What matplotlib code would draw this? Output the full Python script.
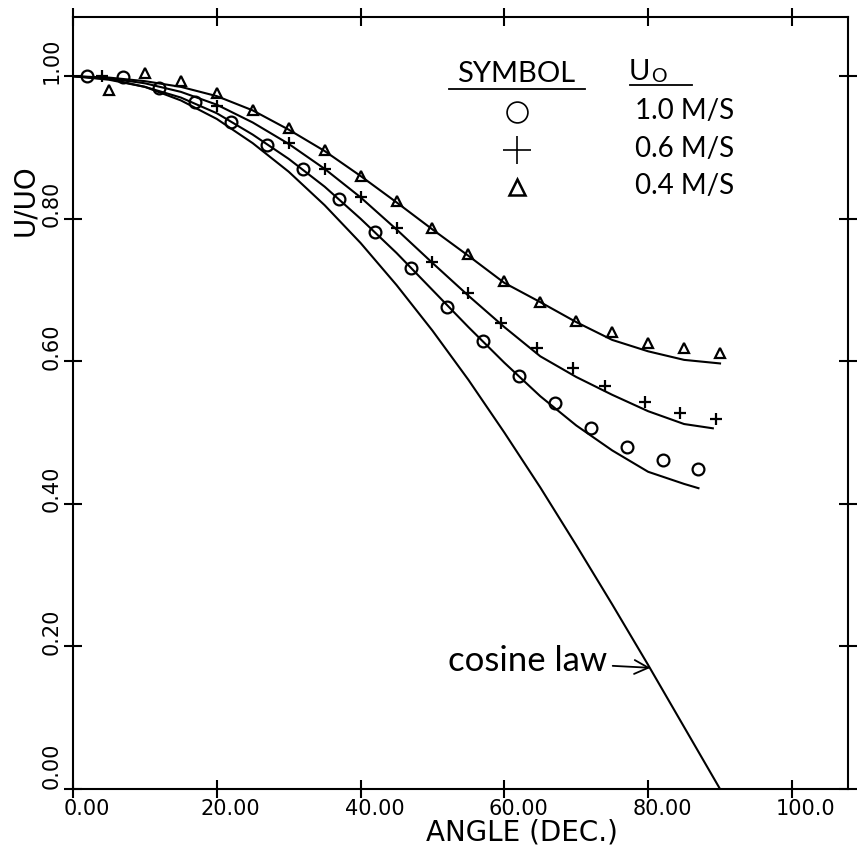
import matplotlib
matplotlib.use('Agg')
import matplotlib.pyplot as plt
from matplotlib.lines import Line2D
from matplotlib.transforms import ScaledTranslation

# ---------------- data ----------------
cos_angle = [0, 5, 10, 15, 20, 25, 30, 35, 40, 45, 50, 55, 60, 65, 70, 75, 80, 85, 90]
cos_val = [1.0, 0.996, 0.985, 0.966, 0.94, 0.906, 0.866, 0.819, 0.766, 0.707,
           0.643, 0.574, 0.5, 0.423, 0.342, 0.259, 0.174, 0.087, 0.0]

circle_angle = [2, 7, 12, 17, 22, 27, 32, 37, 42, 47, 52, 57, 62, 67, 72, 77, 82, 87]
circle_val = [1.0, 0.999, 0.983, 0.964, 0.935, 0.903, 0.870, 0.827, 0.781, 0.731,
              0.676, 0.628, 0.579, 0.541, 0.506, 0.480, 0.461, 0.449]

plus_angle = [4, 20, 30, 35, 40, 45, 50, 55, 59.5, 64.5, 69.5, 74, 79.5, 84.5, 89.5]
plus_val = [1.0, 0.958, 0.906, 0.870, 0.830, 0.787, 0.739, 0.696, 0.654, 0.619,
            0.590, 0.565, 0.543, 0.527, 0.519]

tri_angle = [5, 10, 15, 20, 25, 30, 35, 40, 45, 50, 55, 60, 65, 70, 75, 80, 85, 90]
tri_val = [0.980, 1.004, 0.993, 0.976, 0.952, 0.927, 0.896, 0.860, 0.825, 0.787,
           0.750, 0.712, 0.683, 0.656, 0.641, 0.626, 0.619, 0.612]

fit_low_angle = [0, 5, 10, 15, 20, 25, 30, 35, 40, 45, 50, 55, 60, 65, 70, 75, 80, 85, 87]
fit_low_val = [1.0, 0.995, 0.985, 0.97, 0.948, 0.918, 0.884, 0.845, 0.80, 0.752,
               0.70, 0.648, 0.598, 0.551, 0.51, 0.475, 0.445, 0.428, 0.422]

fit_mid_angle = [0, 5, 10, 15, 20, 25, 30, 35, 40, 45, 50, 55, 60, 65, 70, 75, 80, 85, 89]
fit_mid_val = [1.0, 0.997, 0.99, 0.978, 0.96, 0.935, 0.905, 0.87, 0.83, 0.785,
               0.738, 0.692, 0.648, 0.607, 0.578, 0.553, 0.53, 0.512, 0.506]

fit_up_angle = [0, 5, 10, 15, 20, 25, 30, 35, 40, 45, 50, 55, 60, 65, 70, 75, 80, 85, 90]
fit_up_val = [1.0, 0.998, 0.993, 0.985, 0.972, 0.952, 0.925, 0.895, 0.86, 0.823,
              0.785, 0.748, 0.71, 0.683, 0.655, 0.63, 0.614, 0.602, 0.597]

x_ticks = [0, 20, 40, 60, 80, 100]
x_tick_labels = ['0.00', '20.00', '40.00', '60.00', '80.00', '100.0']
y_ticks = [0.0, 0.2, 0.4, 0.6, 0.8, 1.0]
y_tick_labels = ['0.00', '0.20', '0.40', '0.60', '0.80', '1.00']

legend_labels = ['1.0 M/S', '0.6 M/S', '0.4 M/S']

# ---------------- figure ----------------
W, H = 857, 855
fig = plt.figure(figsize=(W / 100, H / 100), dpi=100)
fig.patch.set_facecolor('white')
ax = fig.add_axes([73 / W, 1 - 789 / H, (848 - 73) / W, (789 - 17) / H])
ax.set_xlim(0, 107.8)
ax.set_ylim(0, 1.083)

def P(x, y):
    return (x / W, 1 - y / H)

lw = 1.5
ax.plot(cos_angle, cos_val, color='black', lw=lw)
ax.plot(fit_low_angle, fit_low_val, color='black', lw=lw)
ax.plot(fit_mid_angle, fit_mid_val, color='black', lw=lw)
ax.plot(fit_up_angle, fit_up_val, color='black', lw=lw)

ax.plot(circle_angle, circle_val, ls='none', marker='o', ms=8.5, mfc='none',
        mec='black', mew=1.6)
ax.plot(plus_angle, plus_val, ls='none', marker='+', ms=9, mec='black', mew=1.6)
ax.plot(tri_angle, tri_val, ls='none', marker='^', ms=7, mfc='none',
        mec='black', mew=1.6)

for s in ax.spines.values():
    s.set_linewidth(1.5)
    s.set_color('black')

ax.set_xticks(x_ticks)
ax.set_xticklabels(x_tick_labels, fontsize=15, family='DejaVu Sans')
ax.set_yticks(y_ticks)
ax.set_yticklabels(y_tick_labels, fontsize=15, family='DejaVu Sans',
                   rotation=90, va='center')
ax.tick_params(axis='both', direction='inout', length=13, width=1.5,
               top=True, right=True, colors='black')
ax.tick_params(axis='x', pad=1)
ax.tick_params(axis='y', pad=2)

# shift tick labels like the reference plotter output
xoff = ScaledTranslation(14 / 100, 0, fig.dpi_scale_trans)
for lab in ax.get_xticklabels():
    lab.set_transform(lab.get_transform() + xoff)
yoff = ScaledTranslation(0, 15 / 100, fig.dpi_scale_trans)
for i, lab in enumerate(ax.get_yticklabels()):
    if i == 0:
        lab.set_va('bottom')
    else:
        lab.set_transform(lab.get_transform() + yoff)

ax.set_xlabel('ANGLE (DEC.)', fontsize=20, family='DejaVu Sans')
ax.xaxis.set_label_coords((522 - 73) / 775, (789 - 832) / 772)
ax.xaxis.label.set_va('center')
ax.set_ylabel('U/UO', fontsize=20, family='DejaVu Sans')
ax.yaxis.set_label_coords((25 - 73) / 775, (789 - 200) / 772)
ax.yaxis.label.set_va('center')

# ---------------- legend table ----------------
lfont = 'Lato'
fig.text(*P(516, 82), 'SYMBOL', fontsize=21, family=lfont, ha='center', va='baseline')
fig.add_artist(Line2D([449 / W, 585 / W], [1 - 89 / H, 1 - 89 / H], color='black',
                      lw=1.3, transform=fig.transFigure))
fig.text(*P(629, 80), 'U', fontsize=21, family=lfont, ha='left', va='baseline')
fig.text(*P(651, 82), 'O', fontsize=14, family=lfont, ha='left', va='baseline')
fig.add_artist(Line2D([630 / W, 692 / W], [1 - 85 / H, 1 - 85 / H], color='black',
                      lw=1.3, transform=fig.transFigure))

sym_y = [112, 150, 187]
sym_style = [dict(marker='o', ms=15, mfc='none', mew=1.2),
             dict(marker='+', ms=20, mew=1.2),
             dict(marker='^', ms=11, mfc='none', mew=1.8)]
for yy, st, lab in zip(sym_y, sym_style, legend_labels):
    fig.add_artist(Line2D([517 / W], [1 - yy / H], ls='none', color='black',
                          mec='black', transform=fig.transFigure, **st))
    fig.text(*P(635, yy - 1), lab, fontsize=20, family=lfont, ha='left', va='center')

# ---------------- cosine law annotation ----------------
ax.annotate('cosine law', xy=(80.3, 0.170), xytext=(74.3, 0.165),
            fontsize=25, family=lfont, ha='right', va='baseline',
            arrowprops=dict(arrowstyle='->', color='black', lw=1.3,
                            shrinkA=2, shrinkB=0))

fig.savefig('out.png', dpi=100, facecolor='white')
